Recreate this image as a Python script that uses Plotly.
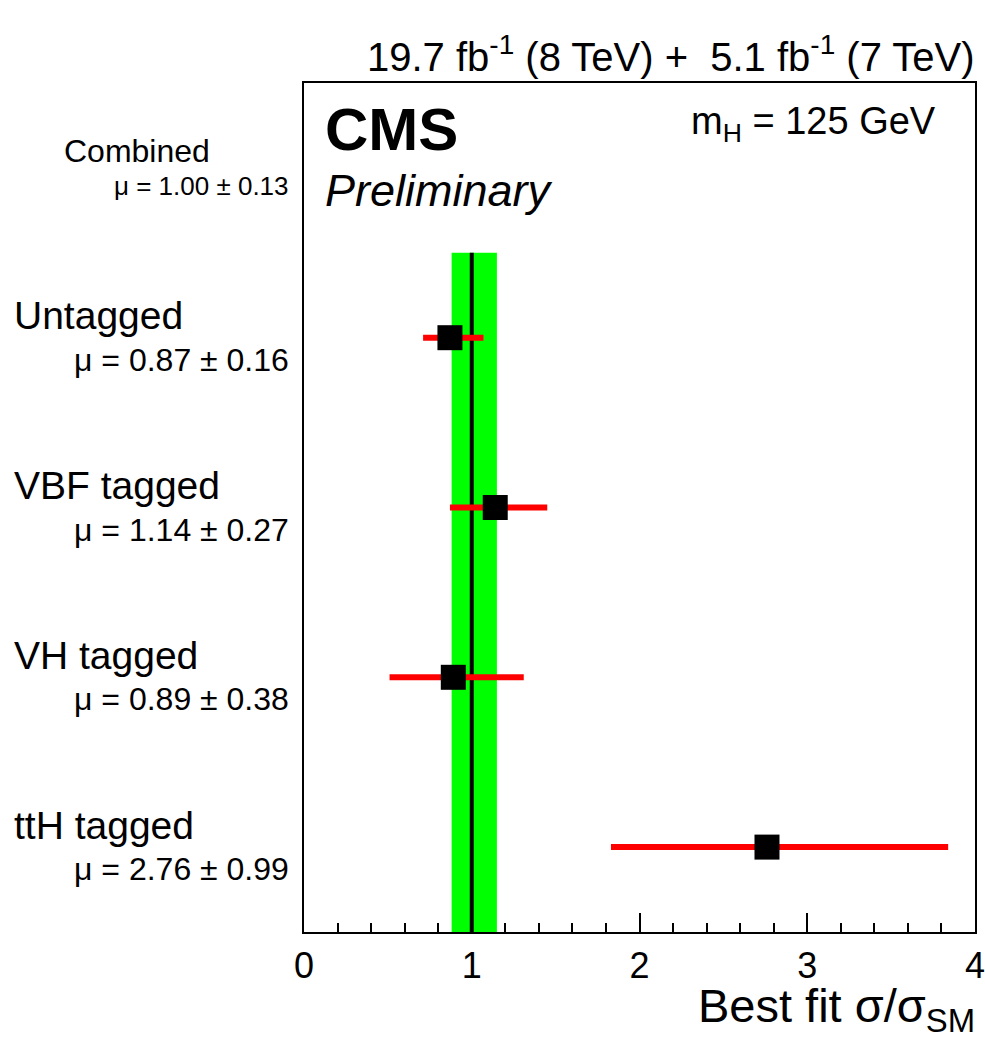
import plotly.graph_objects as go

# ---- data ----
categories = ["ttH tagged", "VH tagged", "VBF tagged", "Untagged"]
mu_values = [2.76, 0.89, 1.14, 0.87]
err_minus = [0.93, 0.38, 0.27, 0.16]
err_plus = [1.08, 0.42, 0.31, 0.20]
mu_labels = ["μ = 2.76 ± 0.99", "μ = 0.89 ± 0.38", "μ = 1.14 ± 0.27", "μ = 0.87 ± 0.16"]
row_pos = [0.5, 1.5, 2.5, 3.5]

combined_name = "Combined"
combined_mu = 1.00
combined_lo = 0.88
combined_hi = 1.15
combined_label = "μ = 1.00 ± 0.13"
combined_row = 4.5

x_ticks = [0, 1, 2, 3, 4]

FONT = "Liberation Sans, Arial, Helvetica, sans-serif"

# plot area in pixels
W, H = 985, 1043
L, R, T, B = 304, 975, 83, 932


def px_x(p):
    return (p - L) / (R - L)


def px_y(p):
    return (B - p) / (B - T)


fig = go.Figure()

# green band + black line (combined)
fig.add_shape(type="rect", xref="x", yref="y", x0=combined_lo, x1=combined_hi,
              y0=0, y1=4, fillcolor="#00ff00", line=dict(width=0), layer="below")
fig.add_shape(type="line", xref="x", yref="y", x0=combined_mu, x1=combined_mu,
              y0=0, y1=4, line=dict(color="black", width=4), layer="below")

fig.add_trace(go.Scatter(
    x=mu_values, y=row_pos, mode="markers",
    marker=dict(symbol="square", size=25, color="black"),
    error_x=dict(type="data", symmetric=False, array=err_plus, arrayminus=err_minus,
                 color="red", thickness=6, width=0),
    showlegend=False, hoverinfo="skip",
))

ann = []
# category labels
for name, lab, y in zip(categories, mu_labels, row_pos):
    ann.append(dict(x=px_x(12), y=y, xref="paper", yref="y", text=name,
                    xanchor="left", yanchor="middle", yshift=22, showarrow=False,
                    font=dict(size=39, color="black", family=FONT)))
    ann.append(dict(x=px_x(291), y=y, xref="paper", yref="y", text=lab,
                    xanchor="right", yanchor="middle", yshift=-22, showarrow=False,
                    font=dict(size=32, color="black", family=FONT)))
ann.append(dict(x=px_x(137), y=combined_row, xref="paper", yref="y", text=combined_name,
                xanchor="center", yanchor="middle", yshift=17, showarrow=False,
                font=dict(size=32, color="black", family=FONT)))
ann.append(dict(x=px_x(291), y=combined_row, xref="paper", yref="y", text=combined_label,
                xanchor="right", yanchor="middle", yshift=-18, showarrow=False,
                font=dict(size=26, color="black", family=FONT)))

# CMS / Preliminary
ann.append(dict(x=px_x(323), y=px_y(129), xref="paper", yref="paper", text="<b>CMS</b>",
                xanchor="left", yanchor="middle", showarrow=False,
                font=dict(size=60, color="black", family=FONT)))
ann.append(dict(x=px_x(323), y=px_y(190), xref="paper", yref="paper", text="<i>Preliminary</i>",
                xanchor="left", yanchor="middle", showarrow=False,
                font=dict(size=45, color="black", family=FONT)))
# mass
ann.append(dict(x=px_x(938), y=px_y(124), xref="paper", yref="paper",
                text="m<sub>H</sub> = 125 GeV",
                xanchor="right", yanchor="middle", showarrow=False,
                font=dict(size=38, color="black", family=FONT)))
# lumi title
ann.append(dict(x=px_x(977), y=px_y(54), xref="paper", yref="paper",
                text="19.7 fb<sup>-1</sup> (8 TeV) +  5.1 fb<sup>-1</sup> (7 TeV)",
                xanchor="right", yanchor="middle", showarrow=False,
                font=dict(size=40, color="black", family=FONT)))
# x-axis title
ann.append(dict(x=px_x(977), y=px_y(1009), xref="paper", yref="paper",
                text="Best fit σ/σ<sub>SM</sub>",
                xanchor="right", yanchor="middle", showarrow=False,
                font=dict(size=47, color="black", family=FONT)))

fig.update_layout(
    width=W, height=H,
    margin=dict(l=L, r=W - R, t=T, b=H - B, pad=0, autoexpand=False),
    paper_bgcolor="white", plot_bgcolor="white",
    annotations=ann,
    font=dict(family=FONT, color="black"),
    xaxis=dict(range=[0, 4], tickvals=x_ticks, ticktext=[str(t) for t in x_ticks],
               ticks="inside", ticklen=19, tickwidth=2, tickcolor="black",
               minor=dict(dtick=0.2, ticks="inside", ticklen=9, tickwidth=2, tickcolor="black"),
               showline=True, linecolor="black", linewidth=2, mirror=True,
               showgrid=False, zeroline=False, automargin=False,
               ticklabeloverflow="allow",
               tickfont=dict(size=36, color="black", family=FONT),
               ticklabelstandoff=1),
    yaxis=dict(range=[0, 5], showticklabels=False, ticks="",
               showline=True, linecolor="black", linewidth=2, mirror=True,
               showgrid=False, zeroline=False, automargin=False),
)

fig.write_html("out.html")
